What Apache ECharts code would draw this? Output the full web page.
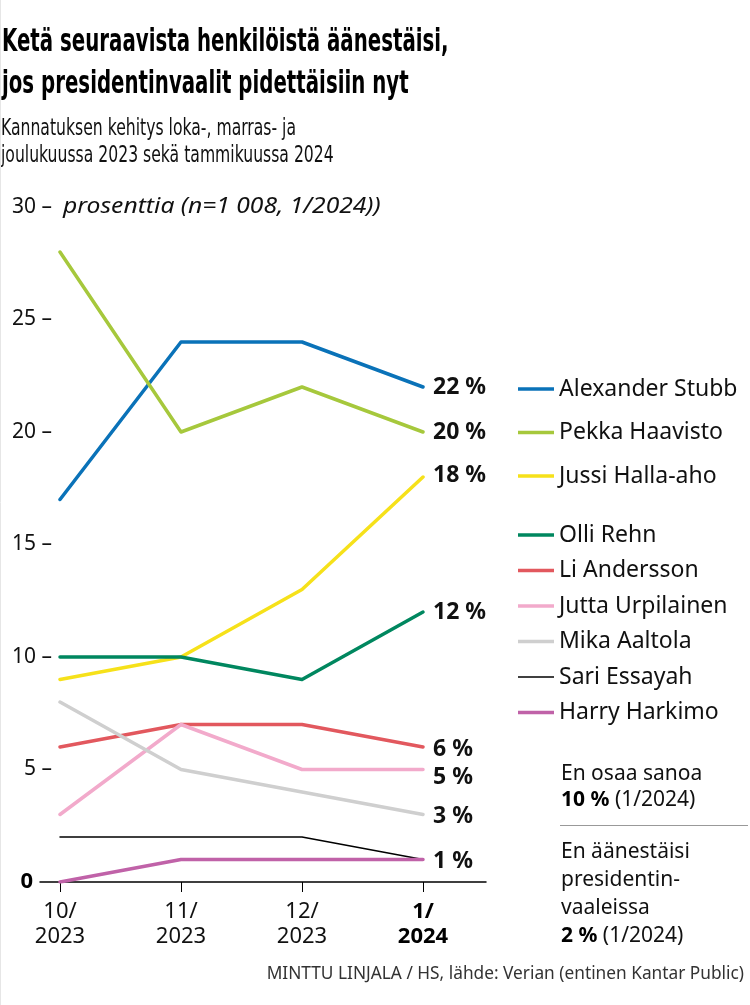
<!DOCTYPE html>
<html><head><meta charset="utf-8">
<script src="https://cdn.jsdelivr.net/npm/echarts@6/dist/echarts.min.js"></script>
<style>html,body{margin:0;padding:0;background:#fff}#c{width:750px;height:1005px}</style>
</head><body><div id="c"></div>
<script>
const categories = ['10/\n2023', '11/\n2023', '12/\n2023', '1/\n2024'];
const stubb = [17, 24, 24, 22];
const haavisto = [28, 20, 22, 20];
const hallaaho = [9, 10, 13, 18];
const rehn = [10, 10, 9, 12];
const andersson = [6, 7, 7, 6];
const urpilainen = [3, 7, 5, 5];
const aaltola = [8, 5, 4, 3];
const essayah = [2, 2, 2, 1];
const harkimo = [0, 1, 1, 1];
const yTicks = [0, 5, 10, 15, 20, 25, 30];

const BODY = '"Noto Sans", "Open Sans", sans-serif';
const COND = '"DejaVu Sans Condensed", "DejaVu Sans", sans-serif';
const THICK = 'path://M0,0 L36,0 L36,3.5 L0,3.5 Z';
const THIN = 'path://M0,0 L36,0 L36,1.5 L0,1.5 Z';

function mk(name, data, color, width, showLabel, labelOffset) {
  return {
    name, type: 'line', data, xAxisIndex: 0, yAxisIndex: 0,
    symbol: 'none', silent: true, animation: false,
    lineStyle: { color, width, cap: 'round', join: 'round' },
    itemStyle: { color },
    z: 3,
    endLabel: {
      show: showLabel,
      formatter: p => p.value + ' %',
      distance: 10, offset: labelOffset || [0, 2],
      color: '#111', fontFamily: BODY, fontWeight: 'bold', fontSize: 23
    }
  };
}

const series = [
  mk('Alexander Stubb', stubb, '#0a72b8', 3.5, true, [0, 0]),
  mk('Pekka Haavisto', haavisto, '#a6c83c', 3.5, true, [0, 0]),
  mk('Jussi Halla-aho', hallaaho, '#f6e11a', 3.5, true, [0, -2]),
  mk('Olli Rehn', rehn, '#00875f', 3.5, true, [0, 0]),
  mk('Li Andersson', andersson, '#e2585e', 3.5, true),
  mk('Jutta Urpilainen', urpilainen, '#f2aacb', 3.5, true, [0, 8]),
  mk('Mika Aaltola', aaltola, '#cfcfcf', 3.5, true),
  mk('Sari Essayah', essayah, '#000000', 1.5, true),
  mk('Harry Harkimo', harkimo, '#c062a8', 3.5, false)
];

const legendCommon = {
  orient: 'vertical', left: 513, itemWidth: 36, itemHeight: 14, icon: THICK,
  textStyle: { fontFamily: BODY, fontSize: 23, lineHeight: 24, color: '#111' },
  selectedMode: false
};

const chart = echarts.init(document.getElementById('c'), null, { renderer: 'canvas' });
chart.setOption({
  backgroundColor: '#fff',
  animation: false,
  title: [
    { text: 'MINTTU LINJALA / HS, lähde: Verian (entinen Kantar Public)',
      right: 1, top: 961,
      textStyle: { fontFamily: BODY, fontWeight: 'normal', fontSize: 17.3, color: '#333' } }
  ],
  grid: [
    { left: 60, width: 363, top: 207, bottom: 123 },
    { left: 40, right: 264, top: 207, bottom: 123 }
  ],
  xAxis: [
    { type: 'category', gridIndex: 0, data: categories, boundaryGap: false,
      axisLine: { show: false },
      axisTick: { show: true, alignWithLabel: true, length: 10, lineStyle: { color: '#000', width: 1 } },
      axisLabel: { margin: 17, fontFamily: BODY, fontSize: 22, color: '#111', lineHeight: 25,
        formatter: (v, i) => i === categories.length - 1 ? '{b|' + v.split('\n').join('}\n{b|') + '}' : v,
        rich: { b: { fontFamily: BODY, fontSize: 22, fontWeight: 'bold', color: '#000', lineHeight: 25 } } },
      splitLine: { show: false } },
    { type: 'value', gridIndex: 1, min: 0, max: 1,
      axisLine: { show: true, onZero: false, lineStyle: { color: '#000', width: 1.5 } },
      axisTick: { show: false }, axisLabel: { show: false }, splitLine: { show: false } }
  ],
  yAxis: [
    { type: 'value', gridIndex: 0, min: 0, max: 30, interval: 5,
      axisLine: { show: false }, axisTick: { show: false }, splitLine: { show: false },
      axisLabel: { margin: 8, fontFamily: BODY, fontSize: 21, color: '#111',
        formatter: v => yTicks.indexOf(v) < 0 ? '' : (v === 0 ? '{z|0}' : v + ' –'),
        rich: { z: { fontFamily: BODY, fontSize: 22, fontWeight: 'bold', color: '#000', padding: [0, 19, 0, 0] } } } },
    { type: 'value', gridIndex: 1, min: 0, max: 30, show: false }
  ],
  legend: [
    Object.assign({}, legendCommon, { top: 372, itemGap: 19.5,
      data: ['Alexander Stubb', 'Pekka Haavisto', 'Jussi Halla-aho'] }),
    Object.assign({}, legendCommon, { top: 518, itemGap: 11.5,
      data: ['Olli Rehn', 'Li Andersson', 'Jutta Urpilainen', 'Mika Aaltola',
        { name: 'Sari Essayah', icon: THIN }, 'Harry Harkimo'] })
  ],
  series,
  graphic: [
    { type: 'text', x: 2, y: 22, scaleX: 0.687, style: {
      text: 'Ketä seuraavista henkilöistä äänestäisi,\njos presidentinvaalit pidettäisiin nyt',
      fontFamily: COND, fontWeight: 'bold', fontSize: 32, lineHeight: 42, fill: '#000' } },
    { type: 'text', x: 1, y: 116, scaleX: 0.756, style: {
      text: 'Kannatuksen kehitys loka-, marras- ja\njoulukuussa 2023 sekä tammikuussa 2024',
      fontFamily: COND, fontWeight: 'normal', fontSize: 23, lineHeight: 27, fill: '#111' } },
    { type: 'text', x: 63, y: 207, scaleX: 1.12, style: {
      text: 'prosenttia (n=1 008, 1/2024))', fontFamily: BODY, fontStyle: 'italic', fontSize: 22,
      fill: '#111', verticalAlign: 'middle', align: 'left' } },
    { type: 'text', left: 561, top: 761, style: {
      text: 'En osaa sanoa\n{b|10 %} (1/2024)', fontFamily: BODY, fontSize: 21, lineHeight: 26, fill: '#111',
      rich: { b: { fontFamily: BODY, fontSize: 21, fontWeight: 'bold', fill: '#000' } } } },
    { type: 'line', shape: { x1: 560, y1: 825.5, x2: 748, y2: 825.5 }, style: { stroke: '#999', lineWidth: 1 } },
    { type: 'text', left: 561, top: 838, style: {
      text: 'En äänestäisi\npresidentin-\nvaaleissa\n{b|2 %} (1/2024)', fontFamily: BODY, fontSize: 21, lineHeight: 28, fill: '#111',
      rich: { b: { fontFamily: BODY, fontSize: 21, fontWeight: 'bold', fill: '#000' } } } },
    { type: 'line', shape: { x1: 0.5, y1: 0, x2: 0.5, y2: 1005 }, style: { stroke: '#e6e6e6', lineWidth: 1 } }
  ]
});
</script></body></html>
